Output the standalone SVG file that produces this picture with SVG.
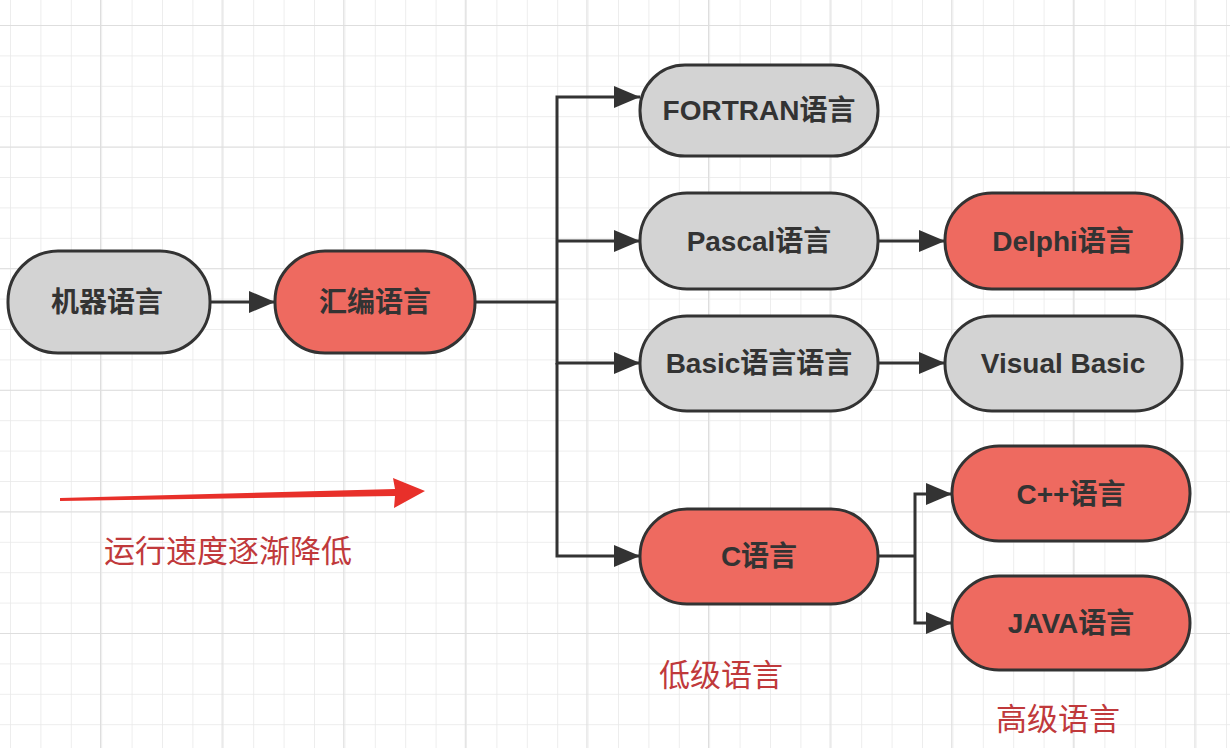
<svg xmlns="http://www.w3.org/2000/svg" width="1230" height="748" viewBox="0 0 1230 748">
<defs>
<pattern id="minor" width="30.4" height="30.4" patternUnits="userSpaceOnUse" x="10" y="25">
<path d="M0 0H30.4M0 0V30.4" fill="none" stroke="#e8e8e8" stroke-width="1.5"/>
</pattern>
<pattern id="major" width="121.6" height="121.6" patternUnits="userSpaceOnUse" x="100" y="25">
<path d="M0 0H121.6M0 0V121.6" fill="none" stroke="#dedede" stroke-width="2"/>
</pattern>
<marker id="arr" markerWidth="26" markerHeight="22" refX="26" refY="11" orient="auto" markerUnits="userSpaceOnUse">
<path d="M0 0L26 11L0 22Z" fill="#333"/>
</marker>
<style>
.n rect{stroke:#333;stroke-width:3}
.g rect{fill:#d3d3d3}
.r rect{fill:#ee6a60}
.n text{font-family:"Liberation Sans","Noto Sans CJK SC",sans-serif;font-weight:bold;font-size:28px;fill:#333;text-anchor:middle;dominant-baseline:central}
.c path{fill:none;stroke:#333;stroke-width:3}
.lbl{font-family:"Noto Sans CJK SC",sans-serif;font-size:31px;fill:#c0393b;text-anchor:middle;dominant-baseline:central}
</style>
</defs>
<rect width="1230" height="748" fill="#fff"/>
<rect width="1230" height="748" fill="url(#minor)"/>
<rect width="1230" height="748" fill="url(#major)"/>
<g class="c" id="connectors">
<path d="M210 302H275" marker-end="url(#arr)"/>
<path d="M475 302H557"/>
<path d="M557 302V97H640" marker-end="url(#arr)"/>
<path d="M557 241H640" marker-end="url(#arr)"/>
<path d="M557 302V363H640" marker-end="url(#arr)"/>
<path d="M557 363V556H640" marker-end="url(#arr)"/>
<path d="M878 241H945" marker-end="url(#arr)"/>
<path d="M878 363H945" marker-end="url(#arr)"/>
<path d="M878 556H915"/>
<path d="M915 556V494H952" marker-end="url(#arr)"/>
<path d="M915 556V623H952" marker-end="url(#arr)"/>
</g>
<g id="n1" class="n g"><rect x="8" y="251" width="202" height="102" rx="50"/><text x="107" y="302">机器语言</text></g>
<g id="n2" class="n r"><rect x="275" y="251" width="200" height="102" rx="50"/><text x="375" y="302">汇编语言</text></g>
<g id="n3" class="n g"><rect x="640" y="65" width="238" height="91" rx="45"/><text x="759" y="110">FORTRAN语言</text></g>
<g id="n4" class="n g"><rect x="640" y="193" width="238" height="96" rx="47"/><text x="759" y="241">Pascal语言</text></g>
<g id="n5" class="n g"><rect x="640" y="316" width="238" height="95" rx="47"/><text x="759" y="363">Basic语言语言</text></g>
<g id="n6" class="n r"><rect x="640" y="509" width="238" height="95" rx="47"/><text x="759" y="556">C语言</text></g>
<g id="n7" class="n r"><rect x="945" y="193" width="237" height="96" rx="47"/><text x="1063" y="241">Delphi语言</text></g>
<g id="n8" class="n g"><rect x="945" y="316" width="237" height="95" rx="47"/><text x="1063" y="363">Visual Basic</text></g>
<g id="n9" class="n r"><rect x="952" y="446" width="238" height="95" rx="47"/><text x="1071" y="494">C++语言</text></g>
<g id="n10" class="n r"><rect x="952" y="576" width="238" height="94" rx="47"/><text x="1071" y="623">JAVA语言</text></g>
<g id="speed">
<path d="M60 498L395 489L393 478L425 491L394 508L395 496L60 501Z" fill="#e8302a"/>
<text class="lbl" x="228" y="548">运行速度逐渐降低</text>
</g>
<text class="lbl" x="721" y="672">低级语言</text>
<text class="lbl" x="1058" y="716">高级语言</text>
</svg>
